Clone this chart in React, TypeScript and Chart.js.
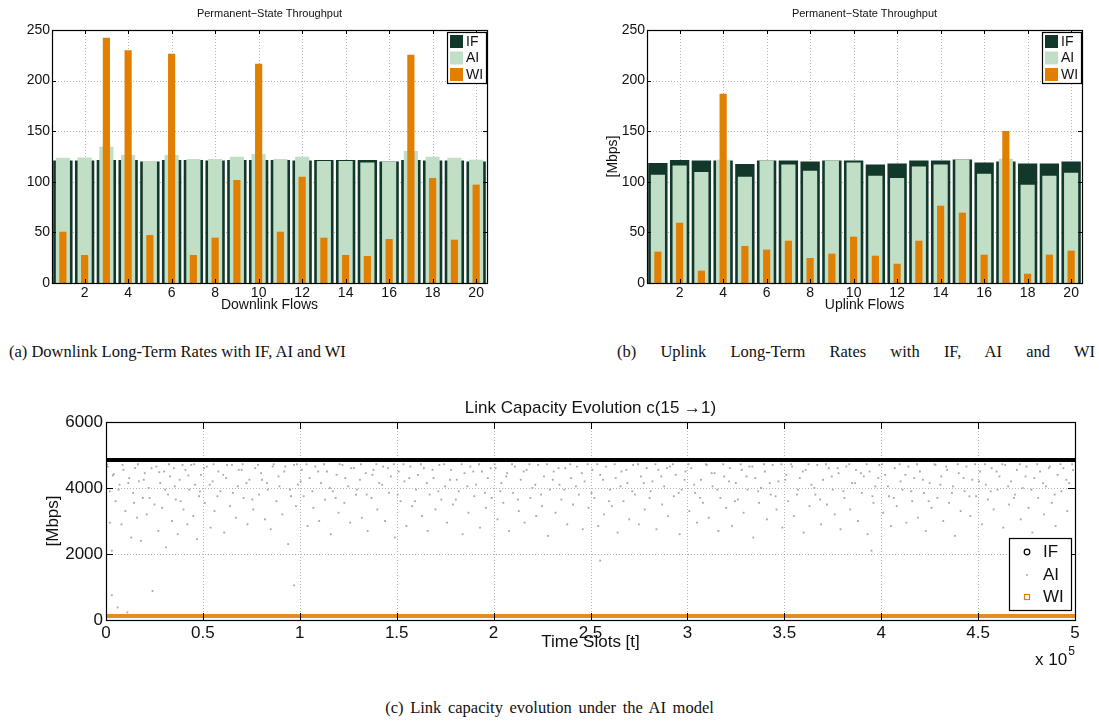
import React, { useEffect, useRef } from "react";
import { Chart, registerables } from "chart.js";
Chart.register(...registerables);

// ---------------- DATA ----------------
const flows = ["1","2","3","4","5","6","7","8","9","10","11","12","13","14","15","16","17","18","19","20"];
const flowTickLabels = ["","2","","4","","6","","8","","10","","12","","14","","16","","18","","20"];
const barYTicks = [0, 50, 100, 150, 200, 250];

const dlIF = [121, 121, 121.5, 121.5, 120, 121.5, 121.5, 121, 121.5, 121.5, 121.5, 121, 121.5, 121.5, 121.5, 120, 121.5, 121, 121, 120];
const dlAI = [123.8, 124, 134.7, 126.5, 120.5, 126.5, 122.5, 122.5, 124.8, 127.5, 122.5, 124.8, 120.5, 120.5, 119, 120, 130.4, 124.8, 123.8, 121.9];
const dlWI = [50.7, 27.7, 242.4, 230, 47.4, 226.6, 27.7, 44.8, 101.8, 216.7, 50.7, 105, 44.8, 27.7, 26.7, 43.5, 225.6, 103.8, 42.8, 97.2];

const ulIF = [118.6, 121.5, 121, 121, 117.6, 121, 121, 120, 121, 121, 117, 118, 121, 121, 122, 119, 120, 118, 118, 120];
const ulAI = [107, 116, 109.7, 121.9, 105, 121, 117, 111, 121, 119, 106, 103.8, 115, 117, 122, 108, 122.9, 97.2, 106, 109];
const ulWI = [31, 59.6, 12.2, 187, 36.6, 33, 41.8, 24.7, 29, 45.8, 27, 19, 41.8, 76.4, 69.5, 28, 150.2, 9.2, 28, 32];

const timeTicks = [0, 50000, 100000, 150000, 200000, 250000, 300000, 350000, 400000, 450000, 500000];
const timeTickLabels = ["0", "0.5", "1", "1.5", "2", "2.5", "3", "3.5", "4", "4.5", "5"];
const capYTicks = [0, 2000, 4000, 6000];

const ifSlots = [0, 500000];
const ifCapacity = [4850, 4850];
const wiSlots = [0, 500000];
const wiCapacity = [120, 120];

// AI capacity samples: [time slot in thousands, Mbps]
const aiSamples: [number, number][] = [
  [1,4650],[2,3900],[2,2950],[3,2100],[3,750],[4,4420],[5,3600],[6,380],[7,4100],[8,2900],[9,4550],[10,3300],[11,230],[12,4300],[13,2500],[14,3850],[15,4600],[16,3100],[17,4200],[18,2400],[19,3700],[20,4450],[21,3200],[22,4000],[24,880],[25,3500],[26,4650],[27,2700],[28,4150],[29,3400],[30,4500],[31,2200],[32,3800],[33,4350],[34,3000],[35,4600],[36,3650],[37,2600],[38,4250],[40,3350],[41,4550],[42,2900],[43,3950],[44,4700],[45,3150],[46,4100],[47,2450],[48,3750],[49,4400],
  [51,3550],[52,4650],[54,2800],[55,4200],[56,3300],[58,4500],[59,3900],[61,2650],[62,4300],[64,3450],[65,4700],[67,3100],[68,4050],[70,4550],[71,3700],[73,2900],[74,4250],[76,3350],[77,4600],[79,3800],[80,4450],[82,3050],[83,4150],[85,2750],[86,4650],[88,3600],[89,4350],[91,3200],[92,4500],[94,2300],[95,3950],[97,4700],[97,1050],[98,3450],[99,4100],
  [101,4550],[102,3750],[104,2850],[105,4300],[107,3400],[108,4650],[110,3000],[111,4150],[113,3650],[114,4500],[116,2600],[117,3900],[119,4400],[120,3250],[122,4700],[123,3550],[125,4050],[126,2950],[128,4600],[129,3800],[131,4250],[132,3100],[134,4450],[135,2700],[137,3700],[138,4550],[140,3350],[141,4150],[143,4650],[144,3000],[146,3850],[147,4350],[149,2500],
  [151,4500],[152,3600],[154,4200],[155,2850],[157,4650],[158,3450],[160,3950],[161,4400],[163,3150],[164,4600],[166,2700],[167,3800],[169,4300],[170,3350],[172,4700],[173,3650],[175,4050],[176,2950],[178,4550],[179,3500],[181,4250],[182,3900],[184,2600],[185,4450],[187,3250],[188,4650],[190,3750],[191,4100],[193,2800],[194,4500],[196,3400],[197,4300],[199,3700],
  [201,4600],[202,3050],[204,4150],[205,3550],[207,4450],[208,2700],[210,3850],[211,4650],[213,3300],[214,4250],[216,2950],[217,4550],[219,3700],[220,4000],[222,3150],[223,4700],[225,3450],[226,4350],[228,2550],[229,3950],[231,4500],[232,3250],[234,4100],[235,3650],[237,4600],[238,2900],[240,4300],[241,3500],[243,4650],[244,3800],[246,2750],[247,4200],[249,3400],
  [251,4550],[252,3700],[254,2850],[255,4400],[255,1800],[257,3200],[258,4650],[260,3950],[261,3450],[263,4300],[264,2650],[266,4500],[267,3600],[269,4150],[270,3050],[272,4700],[273,3800],[275,2900],[276,4350],[278,3350],[279,4600],[281,3900],[282,4200],[284,2750],[285,4550],[287,3500],[288,4050],[290,3150],[291,4650],[293,3750],[294,4400],[296,2600],[297,3950],[299,4500],
  [301,3300],[302,4600],[304,3850],[305,2950],[307,4250],[308,3550],[310,4700],[311,3100],[313,4050],[314,4450],[316,2700],[317,3700],[319,4350],[320,3400],[322,4600],[323,2850],[325,4150],[326,3650],[328,4550],[329,3250],[331,3950],[332,4650],[334,2500],[335,4300],[337,3550],[338,4000],[340,4500],[341,3050],[343,3800],[344,4700],[346,3350],[347,4200],[349,2800],
  [351,4400],[352,3600],[354,4650],[355,3150],[357,3950],[358,4300],[360,2650],[361,4550],[363,3450],[364,4100],[366,3800],[367,4700],[369,2900],[370,4250],[372,3500],[373,4600],[375,3950],[376,3200],[378,4450],[379,2750],[381,3700],[382,4650],[384,3350],[385,4150],[387,4550],[388,3000],[390,3850],[391,4350],[393,2600],[394,4500],[395,2100],[396,3550],[397,4050],[399,4700],
  [401,3250],[402,4400],[404,3750],[405,2850],[407,4600],[408,3450],[410,4200],[411,3950],[413,2950],[414,4650],[416,3600],[417,4300],[419,3100],[420,4500],[422,3850],[423,2700],[425,4150],[426,3400],[428,4700],[429,3700],[431,4350],[432,3000],[434,4550],[435,3550],[437,4050],[438,2550],[440,4450],[441,3300],[443,3900],[444,4650],[446,3150],[447,4250],[449,3750],
  [451,4500],[452,2900],[454,4100],[455,3650],[457,4600],[458,3350],[460,3950],[461,4350],[463,2800],[464,4700],[466,3500],[467,4200],[468,1600],[469,3800],[470,4550],[472,3050],[473,4000],[475,4650],[476,3400],[478,2650],[479,4300],[481,3700],[482,4500],[484,3200],[485,4050],[487,4650],[488,3550],[490,2850],[491,4400],[493,3900],[494,4600],[496,3300],[497,4150],[499,4550],
  [0.5,4720],[3.5,4380],[6.5,3950],[8.5,4700],[11.5,4150],[14.5,3550],[16.5,4720],[19.5,4250],[22.5,3700],[23.5,4600],[27.5,4480],[30.5,3950],[32.5,4720],[35.5,4050],[38.5,3600],[39.5,4700],[42.5,4380],[45.5,4720],[48.5,3900],
  [50.5,4600],[53.5,4100],[55.5,4720],[57.5,3750],[60.5,4400],[62.5,4700],[65.5,3850],[68.5,4550],[70.5,4720],[72.5,4150],[75.5,3650],[78.5,4700],[80.5,4250],[83.5,3950],[86.5,4720],[89.5,4050],[92.5,4650],[95.5,3750],[98.5,4720],
  [100.5,4200],[103.5,4720],[106.5,3900],[109.5,4500],[112.5,4720],[115.5,4000],[118.5,3700],[120.5,4720],[123.5,4300],[126.5,4600],[129.5,3950],[131.5,4720],[134.5,3800],[137.5,4400],[139.5,4720],[142.5,4100],[145.5,4600],[148.5,4720],
  [150.5,3800],[153.5,4720],[156.5,4300],[159.5,3600],[162.5,4720],[165.5,4150],[168.5,4550],[171.5,3900],[174.5,4720],[177.5,4250],[180.5,3650],[183.5,4720],[186.5,4050],[189.5,4500],[192.5,4720],[195.5,3850],[198.5,4600],
  [200.5,4720],[203.5,3900],[206.5,4350],[209.5,4720],[212.5,3650],[215.5,4500],[218.5,4720],[221.5,4100],[224.5,3800],[227.5,4720],[230.5,4250],[233.5,4600],[236.5,3950],[239.5,4720],[242.5,4050],[245.5,4450],[248.5,4720],
  [250.5,3850],[253.5,4720],[256.5,4250],[259.5,3600],[262.5,4720],[265.5,4050],[268.5,4550],[271.5,3900],[274.5,4720],[277.5,4150],[280.5,3700],[283.5,4720],[286.5,4350],[289.5,4600],[292.5,4720],[295.5,3850],[298.5,4250],
  [300.5,4720],[303.5,4100],[306.5,3700],[309.5,4720],[312.5,4450],[315.5,3950],[318.5,4720],[321.5,4200],[324.5,3600],[327.5,4720],[330.5,4350],[333.5,4650],[336.5,3900],[339.5,4720],[342.5,4150],[345.5,3750],[348.5,4720],
  [350.5,4250],[353.5,4720],[356.5,3800],[359.5,4500],[362.5,4720],[365.5,4000],[368.5,3650],[371.5,4720],[374.5,4350],[377.5,4600],[380.5,3900],[383.5,4720],[386.5,4150],[389.5,4450],[392.5,4720],[395.5,3750],[398.5,4300],
  [400.5,4720],[403.5,4050],[406.5,3700],[409.5,4720],[412.5,4400],[415.5,3900],[418.5,4720],[421.5,4250],[424.5,3600],[427.5,4720],[430.5,4100],[433.5,4650],[436.5,3850],[439.5,4720],[442.5,4300],[445.5,3750],[448.5,4720],
  [450.5,4200],[453.5,4720],[456.5,3900],[459.5,4500],[462.5,4720],[465.5,4050],[468.5,3700],[471.5,4720],[474.5,4350],[477.5,3950],[480.5,4720],[483.5,4150],[486.5,4600],[489.5,3800],[492.5,4720],[495.5,4250],[498.5,4720]
];

// ---------------- STYLE ----------------
const IF_COLOR = "#12382a";
const AI_COLOR = "#c1dfc7";
const WI_COLOR = "#e17f00";
const GRID_COLOR = "#b4b4b4";
const SANS = '"Liberation Sans", Arial, Helvetica, sans-serif';
const SERIF = '"Liberation Serif", "Times New Roman", serif';

type LegendItem = { label: string; kind: "box" | "circle" | "dot" | "square"; color: string };
type PlotCfg = {
  title: string;
  titleSize: number;
  titleOffset: number;
  xLabel: string;
  xLabelOffset: number;
  labelSize: number;
  yLabel?: string;
  yLabelOffset?: number;
  tickLen: number;
  xTickShown: (i: number) => boolean;
  legend: { x: number; y: number; w: number; h: number; rows: number[]; markX: number; textX: number; size: number; items: LegendItem[] };
  exponent?: { x: number; y: number };
};

function matlabPlugin(cfg: PlotCfg) {
  return {
    id: "matlabAxes",
    beforeDatasetsDraw(chart: any) {
      const { ctx, chartArea: a, scales } = chart;
      const xs = scales.x, ys = scales.y;
      ctx.save();
      ctx.strokeStyle = GRID_COLOR;
      ctx.lineWidth = 1;
      ctx.setLineDash([1, 2]);
      xs.ticks.forEach((_t: any, i: number) => {
        if (!cfg.xTickShown(i)) return;
        const px = Math.round(xs.getPixelForTick(i)) + 0.5;
        if (px <= a.left + 1 || px >= a.right - 1) return;
        ctx.beginPath(); ctx.moveTo(px, a.top); ctx.lineTo(px, a.bottom); ctx.stroke();
      });
      ys.ticks.forEach((_t: any, i: number) => {
        const py = Math.round(ys.getPixelForTick(i)) + 0.5;
        if (py <= a.top + 1 || py >= a.bottom - 1) return;
        ctx.beginPath(); ctx.moveTo(a.left, py); ctx.lineTo(a.right, py); ctx.stroke();
      });
      ctx.restore();
    },
    afterDatasetsDraw(chart: any) {
      const { ctx, chartArea: a, scales } = chart;
      const xs = scales.x, ys = scales.y;
      const L = cfg.tickLen;
      ctx.save();
      ctx.strokeStyle = "#000";
      ctx.lineWidth = 1;
      xs.ticks.forEach((_t: any, i: number) => {
        if (!cfg.xTickShown(i)) return;
        const px = Math.round(xs.getPixelForTick(i)) + 0.5;
        ctx.beginPath();
        ctx.moveTo(px, a.bottom); ctx.lineTo(px, a.bottom - L);
        ctx.moveTo(px, a.top); ctx.lineTo(px, a.top + L);
        ctx.stroke();
      });
      ys.ticks.forEach((_t: any, i: number) => {
        const py = Math.round(ys.getPixelForTick(i)) + 0.5;
        ctx.beginPath();
        ctx.moveTo(a.left, py); ctx.lineTo(a.left + L, py);
        ctx.moveTo(a.right, py); ctx.lineTo(a.right - L, py);
        ctx.stroke();
      });
      ctx.lineWidth = 1.2;
      ctx.strokeRect(Math.round(a.left) + 0.5, Math.round(a.top) + 0.5, Math.round(a.right - a.left), Math.round(a.bottom - a.top));
      ctx.restore();
    },
    afterDraw(chart: any) {
      const { ctx, chartArea: a } = chart;
      ctx.save();
      ctx.fillStyle = "#111";
      ctx.textAlign = "center";
      ctx.textBaseline = "middle";
      const cx = (a.left + a.right) / 2;
      ctx.font = `${cfg.titleSize}px ${SANS}`;
      ctx.fillText(cfg.title, cx, a.top - cfg.titleOffset);
      ctx.font = `${cfg.labelSize}px ${SANS}`;
      ctx.fillText(cfg.xLabel, cx, a.bottom + cfg.xLabelOffset);
      if (cfg.yLabel) {
        ctx.save();
        ctx.translate(a.left - (cfg.yLabelOffset || 0), (a.top + a.bottom) / 2);
        ctx.rotate(-Math.PI / 2);
        ctx.fillText(cfg.yLabel, 0, 0);
        ctx.restore();
      }
      if (cfg.exponent) {
        ctx.textAlign = "left";
        ctx.font = `${cfg.labelSize}px ${SANS}`;
        ctx.fillText("x 10", cfg.exponent.x, cfg.exponent.y);
        const w = ctx.measureText("x 10").width;
        ctx.font = `${Math.round(cfg.labelSize * 0.7)}px ${SANS}`;
        ctx.fillText("5", cfg.exponent.x + w + 1, cfg.exponent.y - 8);
      }
      // legend
      const lg = cfg.legend;
      ctx.fillStyle = "#fff";
      ctx.fillRect(lg.x, lg.y, lg.w, lg.h);
      ctx.strokeStyle = "#000";
      ctx.lineWidth = 1.2;
      ctx.strokeRect(lg.x + 0.5, lg.y + 0.5, lg.w, lg.h);
      ctx.textAlign = "left";
      ctx.font = `${lg.size}px ${SANS}`;
      lg.items.forEach((it, i) => {
        const y = lg.rows[i];
        if (it.kind === "box") {
          ctx.fillStyle = it.color;
          ctx.fillRect(lg.markX, y - 6.5, 13, 13);
        } else if (it.kind === "circle") {
          ctx.strokeStyle = it.color; ctx.lineWidth = 1.2;
          ctx.beginPath(); ctx.arc(lg.markX, y, 2.8, 0, Math.PI * 2); ctx.stroke();
        } else if (it.kind === "dot") {
          ctx.fillStyle = it.color;
          ctx.fillRect(lg.markX - 0.8, y - 0.8, 1.6, 1.6);
        } else {
          ctx.strokeStyle = it.color; ctx.lineWidth = 1.2;
          ctx.strokeRect(lg.markX - 2.5, y - 2.5, 5, 5);
        }
        ctx.fillStyle = "#111";
        ctx.fillText(it.label, lg.textX, y + 0.5);
      });
      ctx.restore();
    },
  };
}

type Area = { l: number; t: number; r: number; b: number };

function layoutFor(w: number, h: number, area: Area) {
  return {
    layout: { autoPadding: false, padding: { left: 0, top: area.t, right: w - area.r, bottom: 0 } },
    yFit: (s: any) => { s.width = area.l; },
    xFit: (s: any) => { s.height = h - area.b; },
  };
}

function barConfig(w: number, h: number, area: Area, IF: number[], AI: number[], WI: number[], xLabel: string, yLabel: string | undefined, legendX: number) {
  const lay = layoutFor(w, h, area);
  const cfg: PlotCfg = {
    title: "Permanent\u2212State Throughput",
    titleSize: 11,
    titleOffset: 16,
    xLabel,
    xLabelOffset: 22,
    labelSize: 14,
    yLabel,
    yLabelOffset: 34,
    tickLen: 4,
    xTickShown: (i) => flowTickLabels[i] !== "",
    legend: {
      x: legendX, y: 32, w: 39, h: 51, rows: [41.5, 58, 74.5], markX: legendX + 3, textX: legendX + 19, size: 14,
      items: [
        { label: "IF", kind: "box", color: IF_COLOR },
        { label: "AI", kind: "box", color: AI_COLOR },
        { label: "WI", kind: "box", color: WI_COLOR },
      ],
    },
  };
  return {
    type: "bar" as const,
    data: {
      labels: flows,
      datasets: [
        { label: "IF", data: IF, backgroundColor: IF_COLOR, grouped: false, barPercentage: 0.89, categoryPercentage: 1, order: 3, borderWidth: 0 },
        { label: "AI", data: AI, backgroundColor: AI_COLOR, grouped: false, barPercentage: 0.65, categoryPercentage: 1, order: 2, borderWidth: 0 },
        { label: "WI", data: WI, backgroundColor: WI_COLOR, grouped: false, barPercentage: 0.33, categoryPercentage: 1, order: 1, borderWidth: 0 },
      ],
    },
    options: {
      responsive: false,
      animation: false,
      ...{ layout: lay.layout },
      plugins: { legend: { display: false }, tooltip: { enabled: false }, title: { display: false } },
      scales: {
        x: {
          type: "category",
          grid: { display: false, drawTicks: false },
          border: { display: false },
          ticks: {
            autoSkip: false, maxRotation: 0, minRotation: 0, padding: 2,
            color: "#111", font: { family: SANS, size: 14 },
            callback: (_v: any, i: number) => flowTickLabels[i],
          },
          afterFit: lay.xFit,
        },
        y: {
          min: 0, max: 250,
          grid: { display: false, drawTicks: false },
          border: { display: false },
          afterBuildTicks: (s: any) => { s.ticks = barYTicks.map((v) => ({ value: v })); },
          ticks: { padding: 2, color: "#111", font: { family: SANS, size: 14 }, callback: (v: any) => String(v) },
          afterFit: lay.yFit,
        },
      },
    },
    plugins: [matlabPlugin(cfg)],
  };
}

function capacityConfig(w: number, h: number, area: Area) {
  const lay = layoutFor(w, h, area);
  const cfg: PlotCfg = {
    title: "Link Capacity Evolution c(15 \u21921)",
    titleSize: 17,
    titleOffset: 14,
    xLabel: "Time Slots [t]",
    xLabelOffset: 22,
    labelSize: 17,
    yLabel: "[Mbps]",
    yLabelOffset: 53,
    tickLen: 7,
    xTickShown: () => true,
    legend: {
      x: 1009, y: 153, w: 62, h: 72, rows: [167, 190, 212], markX: 1027, textX: 1043, size: 17,
      items: [
        { label: "IF", kind: "circle", color: "#000" },
        { label: "AI", kind: "dot", color: "#9a9a9a" },
        { label: "WI", kind: "square", color: WI_COLOR },
      ],
    },
    exponent: { x: 1035, y: 275 },
  };
  return {
    type: "scatter" as const,
    data: {
      datasets: [
        {
          label: "WI", data: wiSlots.map((x, i) => ({ x, y: wiCapacity[i] })), showLine: true,
          borderColor: "#e38c24", borderWidth: 4, pointRadius: 0, order: 1,
        },
        {
          label: "IF", data: ifSlots.map((x, i) => ({ x, y: ifCapacity[i] })), showLine: true,
          borderColor: "#000", borderWidth: 4, pointRadius: 0, order: 2,
        },
        {
          label: "AI", data: aiSamples.map(([k, y]) => ({ x: k * 1000, y })), showLine: false,
          pointStyle: "rect", pointRadius: 1.3, pointBackgroundColor: "#a8a8a8", pointBorderWidth: 0, order: 3,
        },
      ],
    },
    options: {
      responsive: false,
      animation: false,
      ...{ layout: lay.layout },
      plugins: { legend: { display: false }, tooltip: { enabled: false }, title: { display: false } },
      scales: {
        x: {
          type: "linear", min: 0, max: 500000,
          grid: { display: false, drawTicks: false },
          border: { display: false },
          afterBuildTicks: (s: any) => { s.ticks = timeTicks.map((v) => ({ value: v })); },
          ticks: {
            autoSkip: false, maxRotation: 0, minRotation: 0, padding: 3,
            color: "#111", font: { family: SANS, size: 17 },
            callback: (_v: any, i: number) => timeTickLabels[i],
          },
          afterFit: lay.xFit,
        },
        y: {
          type: "linear", min: 0, max: 6000,
          grid: { display: false, drawTicks: false },
          border: { display: false },
          afterBuildTicks: (s: any) => { s.ticks = capYTicks.map((v) => ({ value: v })); },
          ticks: { padding: 3, color: "#111", font: { family: SANS, size: 17 }, callback: (v: any) => String(v) },
          afterFit: lay.yFit,
        },
      },
    },
    plugins: [matlabPlugin(cfg)],
  };
}

function ChartCanvas({ left, top, width, height, make }: { left: number; top: number; width: number; height: number; make: () => any }) {
  const ref = useRef<HTMLCanvasElement | null>(null);
  useEffect(() => {
    if (!ref.current) return;
    const chart = new Chart(ref.current, make());
    return () => chart.destroy();
  }, []);
  return (
    <canvas
      ref={ref}
      width={width}
      height={height}
      style={{ position: "absolute", left, top, width, height }}
    />
  );
}

export default function App() {
  const captionStyle: React.CSSProperties = {
    position: "absolute",
    fontFamily: SERIF,
    fontSize: 16.5,
    lineHeight: "20px",
    color: "#111",
    whiteSpace: "nowrap",
  };
  return (
    <div style={{ position: "absolute", left: 0, top: 0, width: 1099, height: 724, background: "#fff", overflow: "hidden" }}>
      <ChartCanvas left={0} top={0} width={545} height={330}
        make={() => barConfig(545, 330, { l: 52, t: 30, r: 487, b: 283 }, dlIF, dlAI, dlWI, "Downlink Flows", undefined, 447)} />
      <ChartCanvas left={560} top={0} width={539} height={330}
        make={() => barConfig(539, 330, { l: 87, t: 30, r: 522, b: 283 }, ulIF, ulAI, ulWI, "Uplink Flows", "[Mbps]", 482)} />
      <ChartCanvas left={0} top={385} width={1099} height={300}
        make={() => capacityConfig(1099, 300, { l: 106, t: 37, r: 1075, b: 235 })} />
      <div style={{ ...captionStyle, left: 9, top: 342 }}>(a) Downlink Long-Term Rates with IF, AI and WI</div>
      <div style={{ ...captionStyle, left: 617, top: 342, width: 478, textAlign: "justify", textAlignLast: "justify" as any, whiteSpace: "normal" }}>(b) Uplink Long-Term Rates with IF, AI and WI</div>
      <div style={{ ...captionStyle, left: 0, width: 1099, top: 698, textAlign: "center", wordSpacing: "2.5px" }}>(c) Link capacity evolution under the AI model</div>
    </div>
  );
}
